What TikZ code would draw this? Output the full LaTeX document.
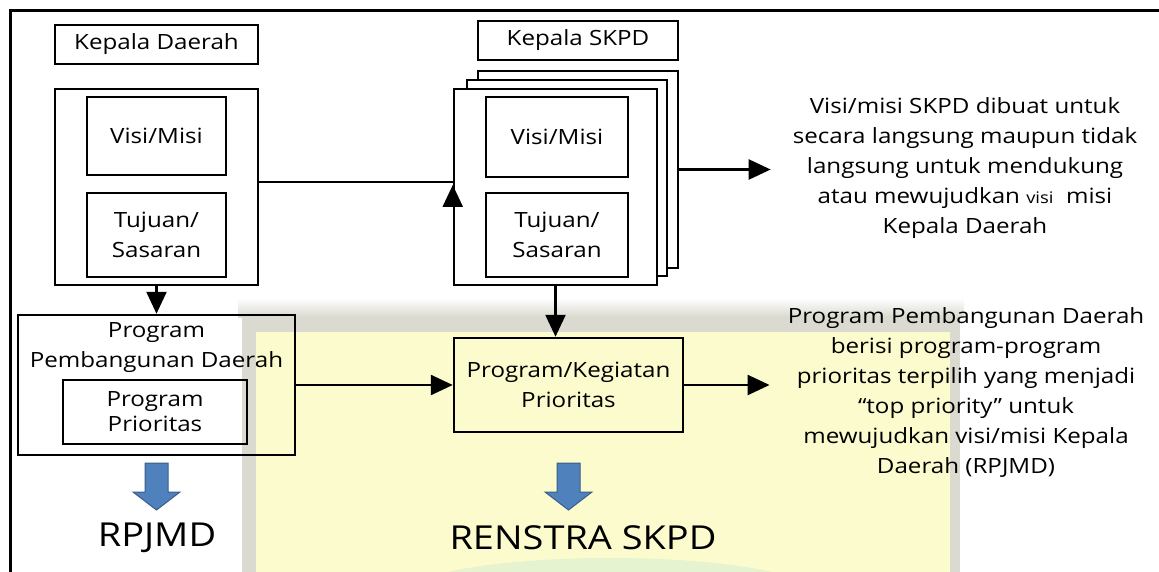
\documentclass[tikz,border=0pt]{standalone}
\usepackage{fontspec}
\setmainfont{Open Sans}[FakeStretch=1.15]
\usetikzlibrary{arrows.meta}
\usetikzlibrary{positioning}

\definecolor{blockblue}{RGB}{79,129,189}
\definecolor{blockedge}{RGB}{56,93,138}
\definecolor{paleyellow}{RGB}{251,251,206}
\definecolor{shadowgray}{RGB}{218,218,208}
\definecolor{palegreen}{RGB}{230,243,208}

\tikzset{
  box/.style={draw, line width=2.5pt, inner sep=0pt, align=center},
  thinbox/.style={draw, line width=1.2pt, inner sep=0pt, align=center},
  flow/.style={line width=2.5pt, -{Triangle[length=22pt,width=20pt]}},
  note/.style={align=center, inner sep=2pt},
  blockarrow/.style={fill=blockblue, draw=blockedge, line width=1pt},
}

\begin{document}
\begin{tikzpicture}[x=1pt,y=-1pt,font=\fontsize{21}{30}\selectfont]
\useasboundingbox (0,0) rectangle (1159,572);
\shade[top color=white, bottom color=shadowgray] (238,298) rectangle (964,317);
\fill[shadowgray] (242,316) rectangle (960,572);
\fill[paleyellow] (256,332) rectangle (950,572);
\fill[palegreen] (610,592) ellipse (200 and 34);
\draw[line width=3pt] (10,572) -- (10,11) -- (1159,11);

\node[box, minimum width=203pt, minimum height=39pt] (kdlabel) at (156.5,44.5) {Kepala Daerah};
\node[box, minimum width=203pt, minimum height=196pt] (kd) at (156.5,187) {};
\node[box, minimum width=139pt, minimum height=78pt] (kdvisi) at (156.5,136) {Visi/Misi};
\node[box, minimum width=139pt, minimum height=84pt] (kdtujuan) at (156.5,235) {Tujuan/\\Sasaran};

\node[box, minimum width=200pt, minimum height=39pt] (skpdlabel) at (578,40.5) {Kepala SKPD};
\node[box, fill=white, minimum width=200pt, minimum height=197pt] (skpd3) at (578,169.5) {};
\node[box, fill=white, minimum width=200pt, minimum height=196pt] (skpd2) at (567,178) {};
\node[box, fill=white, minimum width=203pt, minimum height=196pt] (skpd) at (555.5,187) {};
\node[box, minimum width=142pt, minimum height=80pt] (skpdvisi) at (557,137) {Visi/Misi};
\node[box, minimum width=142pt, minimum height=84pt] (skpdtujuan) at (557,235) {Tujuan/\\Sasaran};

\node[box, minimum width=277pt, minimum height=140pt] (ppd) at (156.5,385) {};
\node[align=center] (ppdtext) at (156.5,348) {Program\\Pembangunan Daerah};
\node[thinbox, minimum width=184pt, minimum height=64pt, font=\fontsize{21}{25}\selectfont] (prio) at (155,412) {Program\\Prioritas};
\node[box, minimum width=229pt, minimum height=94pt] (pk) at (568.5,385) {Program/Kegiatan\\Prioritas};

\node[note] (note1) at (965,168) {Visi/misi SKPD dibuat untuk\\secara langsung maupun tidak\\langsung untuk mendukung\\atau mewujudkan {\fontsize{16}{30}\selectfont visi}\ \ misi\\Kepala Daerah};
\node[note] (note2) at (966,392) {Program Pembangunan Daerah\\berisi program-program\\prioritas terpilih yang menjadi\\“top priority” untuk\\mewujudkan visi/misi Kepala\\Daerah (RPJMD)};

\node[font=\fontsize{33}{38}\selectfont] (rpjmd) at (157,538) {RPJMD};
\node[font=\fontsize{33}{38}\selectfont] (renstra) at (583,538) {RENSTRA SKPD};

\draw[line width=2.5pt] ([yshift=5pt]kd.east) -- ([yshift=5pt]kd.east -| skpd.west) coordinate (jn);
\draw[flow] ([yshift=-20pt]jn) -- ([yshift=-3pt]jn);
\draw[flow] (kd.south) -- (ppd.north);
\draw[flow] (skpd.south) -- (skpd.south |- pk.north);
\draw[flow] (ppd.east) -- (pk.west);
\draw[flow, shorten >=20pt] (skpd3.east) -- (skpd3.east -| note1.west);
\draw[flow, shorten >=16pt] (pk.east) -- (pk.east -| note2.west);

\foreach \src in {ppd, pk} {
  \path (\src.south |- 0,463) coordinate (top);
  \draw[blockarrow] ([xshift=-11.5pt]top) -- ++(23,0) -- ++(0,29) -- ++(12,0) -- ++(-23.5,18) -- ++(-23.5,-18) -- ++(12,0) -- cycle;
}

\end{tikzpicture}
\end{document}
